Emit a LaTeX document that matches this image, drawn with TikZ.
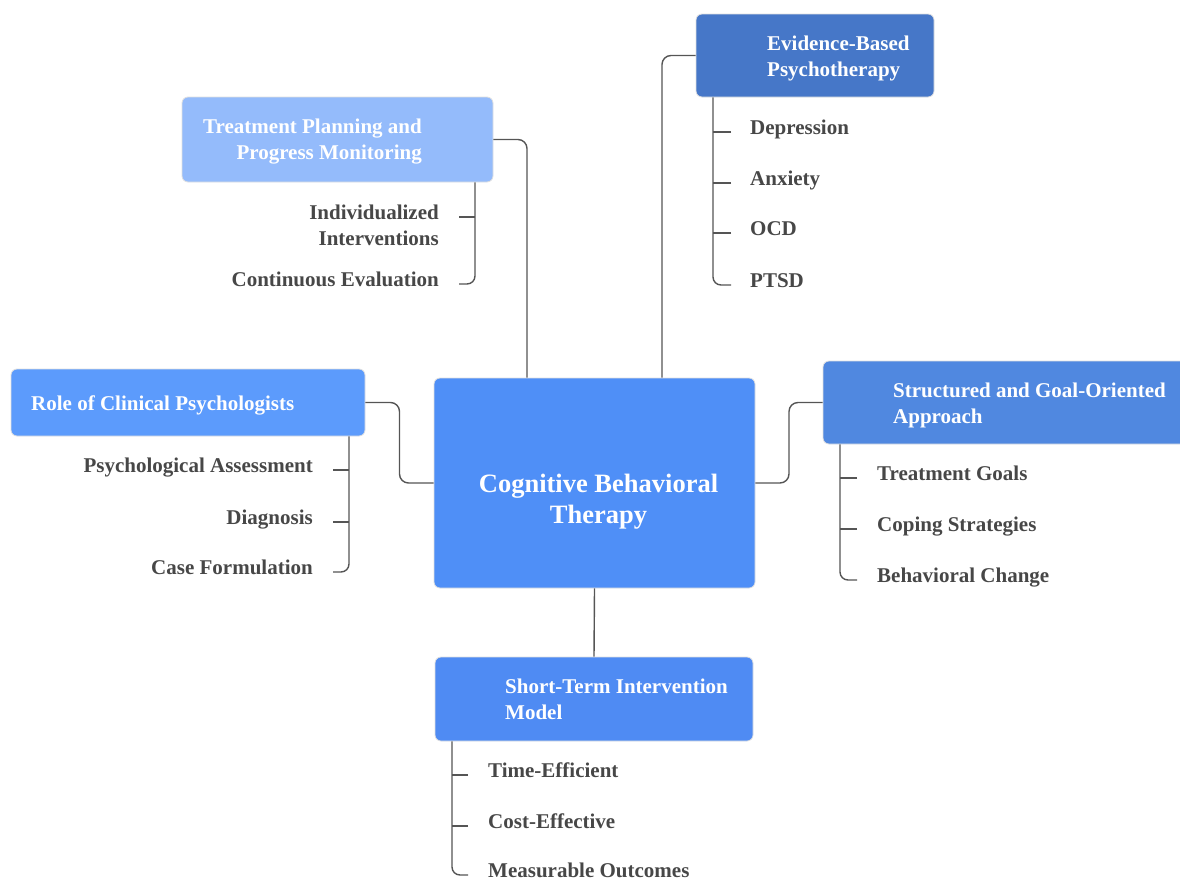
\documentclass[tikz,border=0pt]{standalone}
\usepackage{fontspec}
\setmainfont{Liberation Serif}
\usepackage{xcolor}
\usetikzlibrary{positioning,calc}

\definecolor{hubblue}{HTML}{4F8FF7}
\definecolor{planblue}{HTML}{94BBFB}
\definecolor{evidblue}{HTML}{4677C8}
\definecolor{roleblue}{HTML}{5C9BFC}
\definecolor{goalblue}{HTML}{5088E0}
\definecolor{shortblue}{HTML}{4F8BF3}
\definecolor{leafgray}{HTML}{474747}
\definecolor{linegray}{HTML}{555555}

\begin{document}
\begin{tikzpicture}[x=1pt, y=-1pt,
    box/.style={rectangle, rounded corners=6pt, draw=black!12, line width=0.8pt},
    topic/.style={text=white, font=\fontsize{21}{26}\selectfont\bfseries, inner sep=0pt},
    leaf/.style={text=leafgray, font=\fontsize{21}{26}\selectfont\bfseries, inner sep=0pt},
    link/.style={draw=linegray, line width=1.4pt, rounded corners=9pt}]
\useasboundingbox (0,0) rectangle (1180,881);
\clip (0,0) rectangle (1180,881);

% boxes
\node[box, fill=hubblue, minimum width=321, minimum height=210] (cbt) at (594.5,483) {};
\node[topic, font=\fontsize{26.5}{31}\selectfont\bfseries, align=center] (cbt-t) at (598.5,501.5) {Cognitive Behavioral\\Therapy};

\node[box, fill=planblue, minimum width=311, minimum height=85] (tpm) at (337.5,139.5) {};
\node[topic, align=right, anchor=east] (tpm-t) at (422,142) {Treatment Planning and\\Progress Monitoring};

\node[box, fill=evidblue, minimum width=238, minimum height=83] (ebp) at (815,55.5) {};
\node[topic, align=left, anchor=west] (ebp-t) at (767,58) {Evidence-Based\\Psychotherapy};

\node[box, fill=roleblue, minimum width=354, minimum height=67] (role) at (188,402.5) {};
\node[topic, anchor=west] (role-t) at (31,405) {Role of Clinical Psychologists};

\node[box, fill=goalblue, minimum width=372, minimum height=83] (sgo) at (1009,402.5) {};
\node[topic, align=left, anchor=west] (sgo-t) at (893,405) {Structured and Goal-Oriented\\Approach};

\node[box, fill=shortblue, minimum width=318, minimum height=84] (stim) at (594,699) {};
\node[topic, align=left, anchor=west] (stim-t) at (505,699) {Short-Term Intervention\\Model};

% main branches
\draw[link] (tpm.east) -| ([xshift=-67.5pt]cbt.north);
\draw[link] (ebp.west) -| ([xshift=67.5pt]cbt.north);
\draw[link] (role.east) -| ($(role.east)!.5!(cbt.west)$) |- (cbt.west);
\draw[link] (cbt.east) -| ($(cbt.east)!.5!(sgo.west)$) |- (sgo.west);
\draw[link] (cbt.south) -- (stim.north);

% leaves: tick ends first, text hangs off them
\coordinate (ii-t) at (459,217);
\coordinate (cev-t) at (459,284);
\node[leaf, align=right, anchor=base east] (ii) at ([xshift=-20pt,yshift=-28.5pt]ii-t) {Individualized\\Interventions};
\node[leaf, anchor=base east] (cev) at ([xshift=-20pt,yshift=-2.5pt]cev-t) {Continuous Evaluation};
\draw[link, rounded corners=8pt] ([xshift=137.5pt]tpm.south) |- (cev-t);
\draw[link] (ii-t) -- ++(16,0);

\foreach \n/\y/\t in {dep/132/Depression, anx/183/Anxiety, ocd/233/OCD, ptsd/285/PTSD}{
  \coordinate (\n-t) at (731,\y);
  \node[leaf, anchor=base west] (\n) at ([xshift=19pt,yshift=-2.5pt]\n-t) {\t};
}
\draw[link, rounded corners=8pt] ([xshift=-102pt]ebp.south) |- (ptsd-t);
\foreach \n in {dep,anx,ocd} \draw[link] (\n-t) -- ++(-18,0);

\foreach \n/\y/\t in {psa/470/Psychological Assessment, dia/522/Diagnosis, cf/572/Case Formulation}{
  \coordinate (\n-t) at (333,\y);
  \node[leaf, anchor=base east] (\n) at ([xshift=-20pt,yshift=-2.5pt]\n-t) {\t};
}
\draw[link, rounded corners=8pt] ([xshift=161pt]role.south) |- (cf-t);
\foreach \n in {psa,dia} \draw[link] (\n-t) -- ++(16,0);

\foreach \n/\y/\t in {tg/478/Treatment Goals, cs/529/Coping Strategies, bc/580/Behavioral Change}{
  \coordinate (\n-t) at (857,\y);
  \node[leaf, anchor=base west] (\n) at ([xshift=20pt,yshift=-2.5pt]\n-t) {\t};
}
\draw[link, rounded corners=8pt] ([xshift=-169pt]sgo.south) |- (bc-t);
\foreach \n in {tg,cs} \draw[link] (\n-t) -- ++(-17,0);

\foreach \n/\y/\t in {te/775/Time-Efficient, ce/826/Cost-Effective, mo/875/Measurable Outcomes}{
  \coordinate (\n-t) at (468,\y);
  \node[leaf, anchor=base west] (\n) at ([xshift=20pt,yshift=-2.5pt]\n-t) {\t};
}
\draw[link, rounded corners=8pt] ([xshift=-142pt]stim.south) |- (mo-t);
\foreach \n in {te,ce} \draw[link] (\n-t) -- ++(-16,0);
\end{tikzpicture}
\end{document}
